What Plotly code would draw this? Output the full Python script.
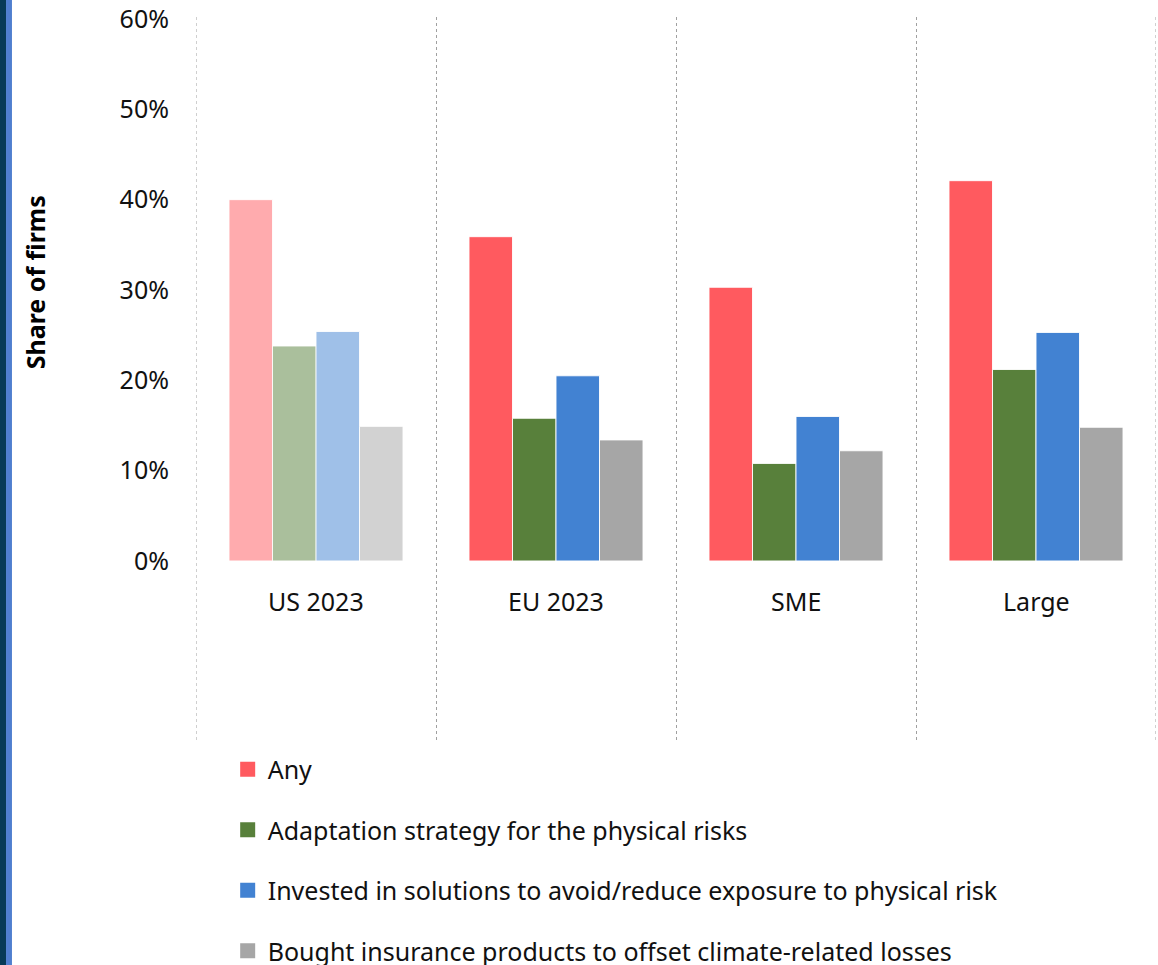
import plotly.graph_objects as go

# Firms taking action on physical climate risk, by group
categories = ["US 2023", "EU 2023", "SME", "Large"]
series_names = [
    "Any",
    "Adaptation strategy for the physical risks",
    "Invested in solutions to avoid/reduce exposure to physical risk",
    "Bought insurance products to offset climate-related losses",
]
any_action = [40.0, 35.9, 30.3, 42.1]
adaptation = [23.8, 15.8, 10.8, 21.2]
invested = [25.4, 20.5, 16.0, 25.3]
insurance = [14.9, 13.4, 12.2, 14.8]
series_values = [any_action, adaptation, invested, insurance]
series_colors = ["#FF5A5F", "#58803B", "#4282D2", "#A6A6A6"]
# US bars are shown faded
bar_opacity = [0.5, 1, 1, 1]

y_ticks = [0, 10, 20, 30, 40, 50, 60]
y_tick_labels = [f"{v}%" for v in y_ticks]

FONT = "Noto Sans, Open Sans, sans-serif"
TEXT = "#111111"

fig = go.Figure()
for i, (name, vals, col) in enumerate(zip(series_names, series_values, series_colors)):
    fig.add_trace(go.Bar(
        x=categories,
        y=vals,
        name=name,
        legendgroup=f"g{i}",
        showlegend=False,
        marker=dict(color=col, opacity=bar_opacity,
                    line=dict(color="rgba(255,255,255,0.9)", width=1)),
        hovertemplate="%{x}: %{y:.1f}%<extra>" + name + "</extra>",
    ))
    # Legend key: a plain square in the series colour
    fig.add_trace(go.Scatter(
        x=[None], y=[None], mode="markers", name=name, legendgroup=f"g{i}",
        marker=dict(symbol="square", size=15, color=col, line=dict(width=0)),
        hoverinfo="skip",
    ))

# Category labels beneath the bars
for c in categories:
    fig.add_annotation(x=c, y=-4.43, xref="x", yref="y", text=c, showarrow=False,
                       font=dict(size=25, color=TEXT, family=FONT))

# Outer dotted boundaries of the category panels
for xb in (-0.5, 3.5):
    fig.add_shape(type="line", xref="x", yref="paper", x0=xb, x1=xb, y0=0, y1=1,
                  line=dict(color="#A0A0A0", width=1, dash="dot"))

# Vertical axis title
fig.add_annotation(x=-0.1677, y=0.633, xref="paper", yref="paper", text="<b>Share of firms</b>",
                   xanchor="center", yanchor="middle",
                   textangle=-90, showarrow=False, font=dict(size=25, color="#000000", family=FONT))

# Decorative stripes on the left edge
fig.add_shape(type="rect", xref="paper", yref="paper", x0=-0.2042, x1=-0.1979, y0=-0.4, y1=1.1,
              fillcolor="#063A56", line=dict(width=0), layer="above")
fig.add_shape(type="rect", xref="paper", yref="paper", x0=-0.1979, x1=-0.1917, y0=-0.4, y1=1.1,
              fillcolor="#4F7FCF", line=dict(width=0), layer="above")

fig.update_layout(
    width=1158, height=965,
    margin=dict(l=196, r=2, t=17, b=225, autoexpand=False),
    paper_bgcolor="white", plot_bgcolor="white",
    barmode="group", bargap=0.275, bargroupgap=0,
    font=dict(family=FONT, size=25, color=TEXT),
    showlegend=True,
    legend=dict(
        orientation="v", x=0.033, xanchor="left", y=-0.009, yanchor="top",
        traceorder="grouped", tracegroupgap=25,
        font=dict(size=25, color=TEXT, family=FONT),
        bgcolor="rgba(0,0,0,0)",
    ),
    xaxis=dict(
        type="category", range=[-0.5, 3.5], showticklabels=False,
        showgrid=True, tickson="boundaries", gridcolor="#A0A0A0", griddash="dot", gridwidth=1,
        ticks="", showline=False, zeroline=False, fixedrange=True,
    ),
    yaxis=dict(
        range=[-19.82, 60.22], tickvals=y_ticks, ticktext=y_tick_labels,
        showgrid=False, zeroline=False, showline=False, ticks="",
        ticklabelstandoff=26, tickfont=dict(size=25, color=TEXT, family=FONT),
        fixedrange=True,
    ),
)

fig.write_html("out.html")
